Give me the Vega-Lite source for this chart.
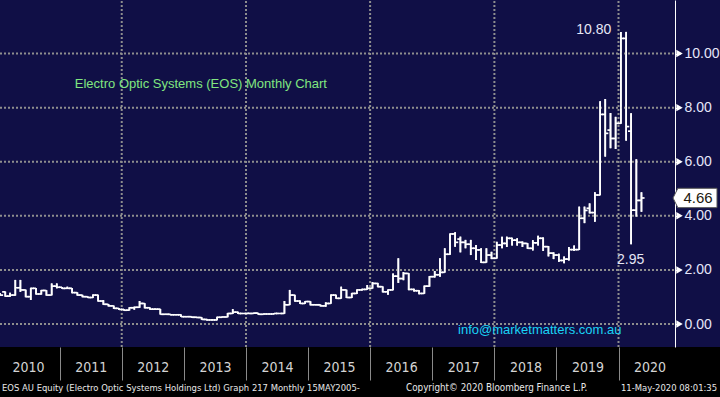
{
  "$schema": "https://vega.github.io/schema/vega-lite/v6.json",
  "width": 720,
  "height": 347,
  "autosize": {"type": "none"},
  "padding": {"left": 0, "top": 0, "right": 0, "bottom": 50},
  "background": "#000000",
  "view": {"fill": "#100f46", "stroke": null},
  "config": {"font": "Liberation Sans"},
  "datasets": {
    "ohlc": [
      {"d":"2010-01-15","o":1.12,"h":1.15,"l":1.05,"c":1.07},
      {"d":"2010-02-15","o":1.19,"h":1.20,"l":1.01,"c":1.03},
      {"d":"2010-03-15","o":1.03,"h":1.16,"l":1.01,"c":1.07},
      {"d":"2010-04-15","o":1.07,"h":1.63,"l":1.05,"c":1.34},
      {"d":"2010-05-15","o":1.34,"h":1.63,"l":1.19,"c":1.26},
      {"d":"2010-06-15","o":1.26,"h":1.27,"l":0.99,"c":1.01},
      {"d":"2010-07-15","o":1.01,"h":1.34,"l":0.89,"c":1.32},
      {"d":"2010-08-15","o":1.32,"h":1.33,"l":1.09,"c":1.11},
      {"d":"2010-09-15","o":1.11,"h":1.26,"l":1.09,"c":1.24},
      {"d":"2010-10-15","o":1.24,"h":1.25,"l":1.05,"c":1.07},
      {"d":"2010-11-15","o":1.07,"h":1.50,"l":1.06,"c":1.40},
      {"d":"2010-12-15","o":1.40,"h":1.50,"l":1.32,"c":1.36},
      {"d":"2011-01-15","o":1.36,"h":1.37,"l":1.30,"c":1.32},
      {"d":"2011-02-15","o":1.32,"h":1.38,"l":1.30,"c":1.32},
      {"d":"2011-03-15","o":1.32,"h":1.33,"l":1.14,"c":1.16},
      {"d":"2011-04-15","o":1.16,"h":1.17,"l":1.05,"c":1.07},
      {"d":"2011-05-15","o":1.07,"h":1.08,"l":0.99,"c":1.01},
      {"d":"2011-06-15","o":1.01,"h":1.02,"l":0.96,"c":0.98},
      {"d":"2011-07-15","o":0.98,"h":1.09,"l":0.96,"c":1.07},
      {"d":"2011-08-15","o":1.07,"h":1.08,"l":0.83,"c":0.85},
      {"d":"2011-09-15","o":0.85,"h":0.88,"l":0.71,"c":0.73},
      {"d":"2011-10-15","o":0.73,"h":0.74,"l":0.65,"c":0.67},
      {"d":"2011-11-15","o":0.67,"h":0.68,"l":0.56,"c":0.58},
      {"d":"2011-12-15","o":0.58,"h":0.59,"l":0.52,"c":0.54},
      {"d":"2012-01-15","o":0.54,"h":0.55,"l":0.49,"c":0.51},
      {"d":"2012-02-15","o":0.51,"h":0.62,"l":0.50,"c":0.60},
      {"d":"2012-03-15","o":0.60,"h":0.64,"l":0.53,"c":0.62},
      {"d":"2012-04-15","o":0.62,"h":0.85,"l":0.60,"c":0.76},
      {"d":"2012-05-15","o":0.76,"h":0.77,"l":0.58,"c":0.60},
      {"d":"2012-06-15","o":0.60,"h":0.61,"l":0.53,"c":0.55},
      {"d":"2012-07-15","o":0.55,"h":0.57,"l":0.53,"c":0.55},
      {"d":"2012-08-15","o":0.55,"h":0.56,"l":0.35,"c":0.36},
      {"d":"2012-09-15","o":0.36,"h":0.38,"l":0.34,"c":0.36},
      {"d":"2012-10-15","o":0.36,"h":0.37,"l":0.32,"c":0.34},
      {"d":"2012-11-15","o":0.34,"h":0.36,"l":0.32,"c":0.34},
      {"d":"2012-12-15","o":0.34,"h":0.35,"l":0.26,"c":0.27},
      {"d":"2013-01-15","o":0.27,"h":0.29,"l":0.25,"c":0.27},
      {"d":"2013-02-15","o":0.27,"h":0.28,"l":0.23,"c":0.25},
      {"d":"2013-03-15","o":0.25,"h":0.27,"l":0.22,"c":0.24},
      {"d":"2013-04-15","o":0.24,"h":0.25,"l":0.16,"c":0.17},
      {"d":"2013-05-15","o":0.17,"h":0.19,"l":0.13,"c":0.15},
      {"d":"2013-06-15","o":0.15,"h":0.18,"l":0.13,"c":0.15},
      {"d":"2013-07-15","o":0.15,"h":0.27,"l":0.14,"c":0.25},
      {"d":"2013-08-15","o":0.25,"h":0.28,"l":0.24,"c":0.26},
      {"d":"2013-09-15","o":0.26,"h":0.41,"l":0.25,"c":0.39},
      {"d":"2013-10-15","o":0.39,"h":0.55,"l":0.37,"c":0.44},
      {"d":"2013-11-15","o":0.44,"h":0.45,"l":0.37,"c":0.39},
      {"d":"2013-12-15","o":0.39,"h":0.41,"l":0.37,"c":0.39},
      {"d":"2014-01-15","o":0.39,"h":0.42,"l":0.37,"c":0.39},
      {"d":"2014-02-15","o":0.39,"h":0.42,"l":0.37,"c":0.40},
      {"d":"2014-03-15","o":0.40,"h":0.41,"l":0.34,"c":0.36},
      {"d":"2014-04-15","o":0.36,"h":0.39,"l":0.35,"c":0.37},
      {"d":"2014-05-15","o":0.37,"h":0.39,"l":0.35,"c":0.37},
      {"d":"2014-06-15","o":0.37,"h":0.41,"l":0.36,"c":0.39},
      {"d":"2014-07-15","o":0.39,"h":0.40,"l":0.37,"c":0.39},
      {"d":"2014-08-15","o":0.39,"h":0.85,"l":0.38,"c":0.71},
      {"d":"2014-09-15","o":0.71,"h":1.26,"l":0.70,"c":1.07},
      {"d":"2014-10-15","o":1.07,"h":1.08,"l":0.83,"c":0.85},
      {"d":"2014-11-15","o":0.85,"h":0.87,"l":0.74,"c":0.76},
      {"d":"2014-12-15","o":0.76,"h":0.85,"l":0.75,"c":0.83},
      {"d":"2015-01-15","o":0.83,"h":0.84,"l":0.69,"c":0.71},
      {"d":"2015-02-15","o":0.71,"h":0.74,"l":0.69,"c":0.71},
      {"d":"2015-03-15","o":0.71,"h":0.72,"l":0.65,"c":0.67},
      {"d":"2015-04-15","o":0.67,"h":0.80,"l":0.64,"c":0.76},
      {"d":"2015-05-15","o":0.76,"h":1.09,"l":0.75,"c":1.07},
      {"d":"2015-06-15","o":1.07,"h":1.08,"l":0.93,"c":0.95},
      {"d":"2015-07-15","o":0.95,"h":1.38,"l":0.94,"c":1.26},
      {"d":"2015-08-15","o":1.26,"h":1.27,"l":0.96,"c":0.98},
      {"d":"2015-09-15","o":0.98,"h":1.15,"l":0.96,"c":1.13},
      {"d":"2015-10-15","o":1.13,"h":1.28,"l":1.11,"c":1.26},
      {"d":"2015-11-15","o":1.26,"h":1.30,"l":1.24,"c":1.28},
      {"d":"2015-12-15","o":1.28,"h":1.44,"l":1.27,"c":1.32},
      {"d":"2016-01-15","o":1.32,"h":1.55,"l":1.31,"c":1.50},
      {"d":"2016-02-15","o":1.50,"h":1.52,"l":1.36,"c":1.38},
      {"d":"2016-03-15","o":1.38,"h":1.39,"l":1.17,"c":1.19},
      {"d":"2016-04-15","o":1.19,"h":1.28,"l":1.08,"c":1.26},
      {"d":"2016-05-15","o":1.26,"h":1.87,"l":1.25,"c":1.77},
      {"d":"2016-06-15","o":1.77,"h":2.43,"l":1.52,"c":1.68},
      {"d":"2016-07-15","o":1.68,"h":1.92,"l":1.62,"c":1.87},
      {"d":"2016-08-15","o":1.87,"h":1.88,"l":1.25,"c":1.28},
      {"d":"2016-09-15","o":1.28,"h":1.30,"l":1.20,"c":1.23},
      {"d":"2016-10-15","o":1.23,"h":1.25,"l":1.10,"c":1.13},
      {"d":"2016-11-15","o":1.13,"h":1.42,"l":1.12,"c":1.40},
      {"d":"2016-12-15","o":1.40,"h":1.77,"l":1.38,"c":1.75},
      {"d":"2017-01-15","o":1.75,"h":1.96,"l":1.72,"c":1.82},
      {"d":"2017-02-15","o":1.82,"h":2.43,"l":1.75,"c":1.91},
      {"d":"2017-03-15","o":1.91,"h":2.80,"l":1.90,"c":2.58},
      {"d":"2017-04-15","o":2.58,"h":3.35,"l":2.56,"c":3.33},
      {"d":"2017-05-15","o":3.33,"h":3.39,"l":2.86,"c":3.02},
      {"d":"2017-06-15","o":3.14,"h":3.23,"l":2.65,"c":3.02},
      {"d":"2017-07-15","o":3.02,"h":3.11,"l":2.80,"c":2.95},
      {"d":"2017-08-15","o":2.95,"h":3.11,"l":2.55,"c":2.80},
      {"d":"2017-09-15","o":2.80,"h":2.92,"l":2.37,"c":2.74},
      {"d":"2017-10-15","o":2.74,"h":2.80,"l":2.26,"c":2.28},
      {"d":"2017-11-15","o":2.28,"h":2.80,"l":2.27,"c":2.55},
      {"d":"2017-12-15","o":2.55,"h":2.67,"l":2.40,"c":2.43},
      {"d":"2018-01-15","o":2.43,"h":3.04,"l":2.42,"c":2.92},
      {"d":"2018-02-15","o":2.92,"h":3.23,"l":2.80,"c":2.98},
      {"d":"2018-03-15","o":2.98,"h":3.23,"l":2.85,"c":3.17},
      {"d":"2018-04-15","o":3.17,"h":3.19,"l":2.90,"c":3.10},
      {"d":"2018-05-15","o":3.10,"h":3.17,"l":2.90,"c":3.02},
      {"d":"2018-06-15","o":3.02,"h":3.05,"l":2.85,"c":2.98},
      {"d":"2018-07-15","o":2.98,"h":2.99,"l":2.78,"c":2.80},
      {"d":"2018-08-15","o":2.80,"h":3.10,"l":2.72,"c":3.00},
      {"d":"2018-09-15","o":3.00,"h":3.26,"l":2.90,"c":3.17},
      {"d":"2018-10-15","o":3.17,"h":3.20,"l":2.70,"c":2.86},
      {"d":"2018-11-15","o":2.86,"h":2.88,"l":2.50,"c":2.62},
      {"d":"2018-12-15","o":2.62,"h":2.65,"l":2.40,"c":2.55},
      {"d":"2019-01-15","o":2.55,"h":2.60,"l":2.30,"c":2.35},
      {"d":"2019-02-15","o":2.35,"h":2.50,"l":2.25,"c":2.40},
      {"d":"2019-03-15","o":2.40,"h":2.85,"l":2.35,"c":2.75},
      {"d":"2019-04-15","o":2.75,"h":2.90,"l":2.70,"c":2.75},
      {"d":"2019-05-15","o":2.75,"h":4.34,"l":2.74,"c":3.91},
      {"d":"2019-06-15","o":3.91,"h":4.34,"l":3.73,"c":4.20},
      {"d":"2019-07-15","o":4.28,"h":4.46,"l":4.09,"c":4.12},
      {"d":"2019-08-15","o":4.12,"h":4.87,"l":3.78,"c":4.77},
      {"d":"2019-09-15","o":4.77,"h":8.24,"l":4.76,"c":7.75},
      {"d":"2019-10-15","o":7.75,"h":8.32,"l":6.19,"c":7.05},
      {"d":"2019-11-15","o":7.17,"h":7.80,"l":6.50,"c":6.86},
      {"d":"2019-12-15","o":6.86,"h":7.66,"l":6.47,"c":7.42},
      {"d":"2020-01-15","o":7.42,"h":10.80,"l":7.40,"c":10.56},
      {"d":"2020-02-15","o":10.56,"h":10.80,"l":6.78,"c":7.30},
      {"d":"2020-03-15","o":7.13,"h":7.79,"l":2.95,"c":4.21},
      {"d":"2020-04-15","o":4.21,"h":6.09,"l":3.97,"c":4.57},
      {"d":"2020-05-15","o":4.57,"h":4.87,"l":4.15,"c":4.66}
    ],
    "hgrid": [{"v":0},{"v":2},{"v":4},{"v":6},{"v":8},{"v":10}],
    "vgrid": [{"d":"2012-01-01"},{"d":"2014-01-01"},{"d":"2016-01-01"},{"d":"2018-01-01"},{"d":"2020-01-01"}],
    "one": [{"k": 1}]
  },
  "layer": [
    {
      "data": {"name": "ohlc"},
      "mark": {"type": "rule", "color": "#ffffff", "strokeWidth": 1.7},
      "encoding": {
        "x": {"field": "d", "type": "temporal",
          "scale": {"type": "utc", "domain": [{"year": 2010, "month": 1, "date": 15, "utc": true}, {"year": 2021, "month": 8, "date": 20, "utc": true}]},
          "axis": {"orient": "bottom", "title": null, "domain": false, "grid": false,
            "values": [
              {"year": 2010, "month": 1, "date": 15, "utc": true},
              {"year": 2011, "month": 1, "date": 1, "utc": true},
              {"year": 2012, "month": 1, "date": 1, "utc": true},
              {"year": 2013, "month": 1, "date": 1, "utc": true},
              {"year": 2014, "month": 1, "date": 1, "utc": true},
              {"year": 2015, "month": 1, "date": 1, "utc": true},
              {"year": 2016, "month": 1, "date": 1, "utc": true},
              {"year": 2017, "month": 1, "date": 1, "utc": true},
              {"year": 2018, "month": 1, "date": 1, "utc": true},
              {"year": 2019, "month": 1, "date": 1, "utc": true},
              {"year": 2020, "month": 1, "date": 1, "utc": true}
            ],
            "labelExpr": "utcFormat(datum.value, '%Y')",
            "tickSize": 33, "tickColor": "#8a8a8a", "tickWidth": 1,
            "tickOpacity": {"condition": {"test": "datum.value < 1263600000000", "value": 0}, "value": 1},
            "labelOffset": {"condition": {"test": "datum.value < 1263600000000", "value": 28}, "value": 31},
            "labelPadding": -13, "labelBaseline": "middle",
            "labelFont": "DejaVu Sans Condensed, Liberation Sans Narrow, Liberation Sans, sans-serif", "labelFontSize": 14, "labelColor": "#d4d4d4",
            "labelFlush": false, "labelOverlap": false, "labelBound": false}},
        "y": {"field": "l", "type": "quantitative",
          "scale": {"domain": [-0.85, 11.98], "nice": false, "zero": false},
          "axis": {"orient": "right", "offset": -45, "title": null, "grid": false,
            "values": [0, 1, 2, 3, 4, 5, 6, 7, 8, 9, 10, 11],
            "labelExpr": "datum.value % 2 === 0 ? format(datum.value, '.2f') : ''",
            "domainColor": "#ffffff", "domainWidth": 1,
            "tickColor": "#ffffff", "tickSize": 5, "tickWidth": 1,
            "labelPadding": 4, "labelFont": "Liberation Sans", "labelFontSize": 14,
            "labelColor": "#e6e6fa", "labelOverlap": false, "labelBaseline": "middle"}},
        "y2": {"field": "h"}
      }
    },
    {
      "data": {"name": "hgrid"},
      "mark": {"type": "rule", "color": "#8e8e8e", "strokeWidth": 2, "strokeDash": [2, 2]},
      "encoding": {
        "y": {"field": "v", "type": "quantitative"},
        "x": {"datum": {"year": 2010, "month": 1, "date": 15, "utc": true}, "type": "temporal"},
        "x2": {"datum": {"year": 2020, "month": 11, "date": 28, "utc": true}}
      }
    },
    {
      "data": {"name": "vgrid"},
      "mark": {"type": "rule", "color": "#8e8e8e", "strokeWidth": 2, "strokeDash": [2, 2]},
      "encoding": {
        "x": {"field": "d", "type": "temporal"},
        "y": {"datum": -0.85, "type": "quantitative"},
        "y2": {"datum": 11.98}
      }
    },
    {
      "data": {"name": "ohlc"},
      "mark": {"type": "rule", "color": "#ffffff", "strokeWidth": 1.7},
      "encoding": {
        "x": {"field": "d", "type": "temporal"},
        "y": {"field": "l", "type": "quantitative"},
        "y2": {"field": "h"}
      }
    },
    {
      "data": {"name": "ohlc"},
      "mark": {"type": "tick", "orient": "horizontal", "color": "#ffffff", "size": 3, "thickness": 1.7, "xOffset": -1.6, "opacity": 1},
      "encoding": {
        "x": {"field": "d", "type": "temporal"},
        "y": {"field": "o", "type": "quantitative"}
      }
    },
    {
      "data": {"name": "ohlc"},
      "mark": {"type": "tick", "orient": "horizontal", "color": "#ffffff", "size": 3, "thickness": 1.7, "xOffset": 1.6, "opacity": 1},
      "encoding": {
        "x": {"field": "d", "type": "temporal"},
        "y": {"field": "c", "type": "quantitative"}
      }
    },
    {
      "data": {"name": "hgrid"},
      "mark": {"type": "point", "shape": "triangle-right", "filled": true, "color": "#ffffff", "size": 55, "opacity": 1},
      "encoding": {
        "x": {"datum": {"year": 2020, "month": 12, "date": 25, "utc": true}, "type": "temporal"},
        "y": {"field": "v", "type": "quantitative"}
      }
    },
    {
      "data": {"name": "one"},
      "mark": {"type": "point", "shape": "M -1 0 L -0.78 -0.44 L 1 -0.44 L 1 0.44 L -0.78 0.44 Z", "filled": true, "fill": "#ffffff", "stroke": "#555555", "strokeWidth": 1, "size": 1936, "opacity": 1},
      "encoding": {
        "x": {"datum": {"year": 2021, "month": 3, "date": 26, "utc": true}, "type": "temporal"},
        "y": {"datum": 4.66, "type": "quantitative"}
      }
    },
    {
      "data": {"name": "one"},
      "mark": {"type": "text", "text": "4.66", "font": "Liberation Sans", "fontSize": 15, "color": "#231a10", "align": "center", "baseline": "middle"},
      "encoding": {
        "x": {"datum": {"year": 2021, "month": 4, "date": 13, "utc": true}, "type": "temporal"},
        "y": {"datum": 4.66, "type": "quantitative"}
      }
    },
    {
      "data": {"name": "one"},
      "mark": {"type": "text", "text": "10.80", "font": "Liberation Sans", "fontSize": 14, "color": "#e6e6f5", "align": "center", "baseline": "middle"},
      "encoding": {
        "x": {"datum": {"year": 2019, "month": 8, "date": 8, "utc": true}, "type": "temporal"},
        "y": {"datum": 10.87, "type": "quantitative"}
      }
    },
    {
      "data": {"name": "one"},
      "mark": {"type": "text", "text": "2.95", "font": "Liberation Sans", "fontSize": 14, "color": "#e6e6f5", "align": "left", "baseline": "middle"},
      "encoding": {
        "x": {"datum": {"year": 2019, "month": 12, "date": 23, "utc": true}, "type": "temporal"},
        "y": {"datum": 2.37, "type": "quantitative"}
      }
    },
    {
      "data": {"name": "one"},
      "mark": {"type": "text", "text": "Electro Optic Systems (EOS) Monthly Chart", "font": "Liberation Sans", "fontSize": 13, "color": "#80e680", "align": "left", "baseline": "middle"},
      "encoding": {
        "x": {"datum": {"year": 2011, "month": 3, "date": 31, "utc": true}, "type": "temporal"},
        "y": {"datum": 8.87, "type": "quantitative"}
      }
    },
    {
      "data": {"name": "one"},
      "mark": {"type": "text", "text": "info@marketmatters.com.au", "font": "Liberation Sans", "fontSize": 13, "color": "#19d3f5", "align": "left", "baseline": "middle"},
      "encoding": {
        "x": {"datum": {"year": 2017, "month": 6, "date": 1, "utc": true}, "type": "temporal"},
        "y": {"datum": -0.22, "type": "quantitative"}
      }
    },
    {
      "data": {"name": "one"},
      "mark": {"type": "text", "text": "EOS AU Equity (Electro Optic Systems Holdings Ltd) Graph 217  Monthly 15MAY2005-", "font": "DejaVu Sans Condensed, Liberation Sans Narrow, Liberation Sans, sans-serif", "fontSize": 9.4, "color": "#e8e8e8", "align": "left", "baseline": "middle"},
      "encoding": {
        "x": {"datum": {"year": 2010, "month": 1, "date": 27, "utc": true}, "type": "temporal"},
        "y": {"datum": -2.37, "type": "quantitative"}
      }
    },
    {
      "data": {"name": "one"},
      "mark": {"type": "text", "text": "Copyright© 2020 Bloomberg Finance L.P.", "font": "DejaVu Sans Condensed, Liberation Sans Narrow, Liberation Sans, sans-serif", "fontSize": 9.8, "color": "#e8e8e8", "align": "left", "baseline": "middle"},
      "encoding": {
        "x": {"datum": {"year": 2016, "month": 7, "date": 30, "utc": true}, "type": "temporal"},
        "y": {"datum": -2.37, "type": "quantitative"}
      }
    },
    {
      "data": {"name": "one"},
      "mark": {"type": "text", "text": "11-May-2020 08:01:35", "font": "DejaVu Sans Condensed, Liberation Sans Narrow, Liberation Sans, sans-serif", "fontSize": 9.4, "color": "#e8e8e8", "align": "right", "baseline": "middle"},
      "encoding": {
        "x": {"datum": {"year": 2021, "month": 8, "date": 3, "utc": true}, "type": "temporal"},
        "y": {"datum": -2.37, "type": "quantitative"}
      }
    }
  ]
}
